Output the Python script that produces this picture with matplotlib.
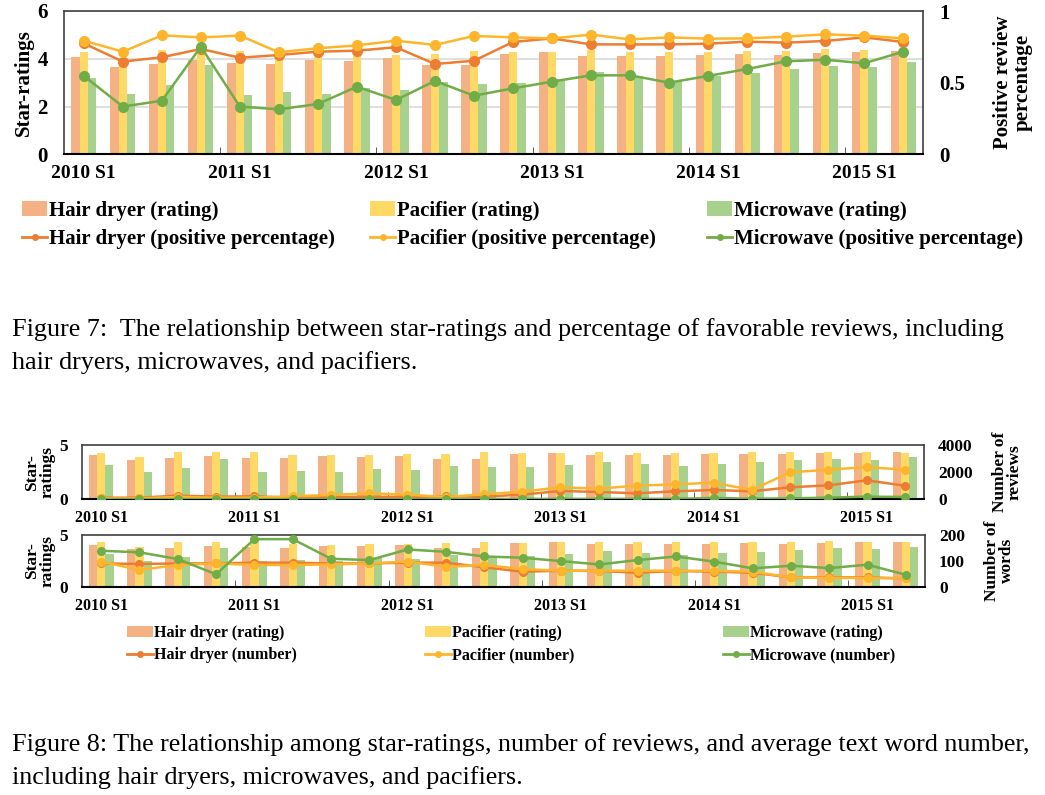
import matplotlib
matplotlib.use("Agg")
import matplotlib.pyplot as plt
import numpy as np
from matplotlib.lines import Line2D
from matplotlib.patches import Patch

plt.rcParams['font.family'] = ['Liberation Serif', 'DejaVu Serif']

periods = []
for yr in range(2010, 2016):
    for s in range(1, 5):
        periods.append(f"{yr} S{s}")
periods = periods[:22]

hair_rating = [4.06, 3.66, 3.78, 3.95, 3.82, 3.77, 3.95, 3.89, 4.02, 3.74, 3.74,
               4.19, 4.30, 4.12, 4.12, 4.12, 4.16, 4.20, 4.17, 4.24, 4.30, 4.33]
pac_rating = [4.30, 3.85, 4.37, 4.35, 4.34, 4.09, 4.06, 4.12, 4.16, 4.20, 4.34,
              4.27, 4.30, 4.37, 4.28, 4.30, 4.28, 4.31, 4.34, 4.40, 4.37, 4.30]
mw_rating = [3.20, 2.51, 2.89, 3.74, 2.47, 2.62, 2.53, 2.76, 2.69, 3.03, 2.94,
             2.99, 3.14, 3.45, 3.28, 3.06, 3.28, 3.40, 3.59, 3.70, 3.64, 3.86]

hair_pos = [0.774, 0.647, 0.677, 0.735, 0.674, 0.693, 0.716, 0.723, 0.747, 0.630, 0.653,
            0.784, 0.809, 0.767, 0.767, 0.767, 0.772, 0.786, 0.779, 0.791, 0.816, 0.784]
pac_pos = [0.793, 0.716, 0.830, 0.816, 0.828, 0.712, 0.740, 0.760, 0.793, 0.763, 0.826,
           0.816, 0.809, 0.835, 0.802, 0.816, 0.807, 0.809, 0.821, 0.837, 0.828, 0.809]
mw_pos = [0.547, 0.333, 0.374, 0.751, 0.333, 0.314, 0.351, 0.472, 0.379, 0.512, 0.409,
          0.460, 0.507, 0.551, 0.551, 0.500, 0.547, 0.595, 0.649, 0.660, 0.635, 0.716]

hair_reviews = [120, 120, 270, 196, 220, 120, 150, 196, 170, 220, 196,
                343, 612, 539, 441, 588, 686, 588, 882, 1029, 1396, 1005]
pac_reviews = [70, 70, 170, 120, 120, 220, 320, 440, 343, 170, 367,
               563, 880, 784, 1005, 1100, 1225, 686, 1985, 2180, 2376, 2180]
mw_reviews = [10, 10, 10, 10, 10, 10, 15, 15, 15, 20, 20,
              25, 25, 25, 30, 30, 100, 40, 70, 120, 196, 170]

hair_words = [90, 88, 90, 90, 93, 93, 90, 90, 93, 93, 75,
              58, 62, 61, 54, 61, 58, 54, 36, 36, 36, 32]
pac_words = [97, 65, 84, 90, 84, 84, 86, 90, 97, 77, 84,
             68, 62, 62, 62, 62, 61, 58, 36, 34, 34, 32]
mw_words = [139, 133, 107, 48, 184, 184, 108, 103, 144, 135, 117,
            112, 99, 86, 103, 117, 97, 71, 81, 72, 85, 46]

bar_cols = ['#F4B183', '#FFD966', '#A9D18E']
line_cols = ['#ED7D31', '#FDB62B', '#70AD47']
spine_col = '#404040'

W, H = 1045, 795
fig = plt.figure(figsize=(W / 100, H / 100), dpi=100)


def box(l, t, r, b):
    return [l / W, 1 - b / H, (r - l) / W, (b - t) / H]


x = np.arange(len(periods))
bw = 0.215


def draw_panel(ax, lines, ymax, yticks, rmax, rticks, rticklabels, fs_tick, fs_x,
               msize, grid=False):
    ax.set_zorder(1)
    ax.patch.set_visible(False)
    for k, vals in enumerate([hair_rating, pac_rating, mw_rating]):
        ax.bar(x + (k - 1) * bw, vals, width=bw, color=bar_cols[k], zorder=2)
    ax.set_xlim(-0.5, len(periods) - 0.5)
    ax.set_ylim(0, ymax)
    ax.set_yticks(yticks)
    ax.set_yticklabels([str(v) for v in yticks], fontsize=fs_tick, fontweight='bold')
    ax.tick_params(axis='y', length=0, pad=12)
    ax.set_xticks(x[::4])
    ax.set_xticklabels(periods[::4], fontsize=fs_x, fontweight='bold')
    ax.set_xticks(np.arange(3.5, len(periods) - 1, 4), minor=True)
    ax.tick_params(axis='x', which='major', length=0, pad=8)
    ax.tick_params(axis='x', which='minor', length=5, direction='in', color=spine_col)
    if grid:
        ax.yaxis.grid(True, color='#D9D9D9', linewidth=1.2, zorder=0)
        ax.set_axisbelow(True)
    for s in ax.spines.values():
        s.set_color(spine_col)
        s.set_linewidth(1.2)
    ax.spines['bottom'].set_color('black')
    ax.spines['bottom'].set_linewidth(1.5)

    ax2 = ax.twinx()
    ax2.set_zorder(2)
    for k, vals in enumerate(lines):
        ax2.plot(x, vals, color=line_cols[k], linewidth=1.8, marker='o',
                 markersize=msize, zorder=3)
    ax2.set_ylim(0, rmax)
    ax2.set_yticks(rticks)
    ax2.set_yticklabels(rticklabels, fontsize=fs_tick, fontweight='bold')
    ax2.tick_params(axis='y', length=0, pad=12)
    for s in ax2.spines.values():
        s.set_visible(False)
    return ax2


# ---- Figure 7 ----
ax7 = fig.add_axes(box(64.3, 11, 922.7, 154.3))
ax7r = draw_panel(ax7, [hair_pos, pac_pos, mw_pos], 6, [0, 2, 4, 6],
                  1, [0, 0.5, 1], ['0', '0.5', '1'], 15, 14, 7, grid=True)
ax7.set_ylabel('Star-ratings', fontsize=15, fontweight='bold', labelpad=2)
ax7r.set_ylabel('Positive review\npercentage', fontsize=15, fontweight='bold',
                labelpad=20, linespacing=0.95)


def column_legend(labels, k, xpix, ypix, fs, hl):
    handles = [Patch(facecolor=bar_cols[k], edgecolor='none'),
               Line2D([], [], color=line_cols[k], marker='o', markersize=4, linewidth=2)]
    lg = fig.legend(handles, labels, loc='upper left',
                    bbox_to_anchor=(xpix / W, 1 - ypix / H), frameon=False,
                    prop={'weight': 'bold', 'size': fs}, handlelength=hl,
                    handletextpad=0.08, labelspacing=0.4, borderaxespad=0,
                    borderpad=0)
    return lg


column_legend(['Hair dryer (rating)', 'Hair dryer (positive percentage)'], 0, 22, 201, 15, 1.2)
column_legend(['Pacifier (rating)', 'Pacifier (positive percentage)'], 1, 370, 201, 15, 1.2)
column_legend(['Microwave (rating)', 'Microwave (positive percentage)'], 2, 707, 201, 15, 1.2)

cap_fs = 18.8
fig.text(12 / W, 1 - 330 / H,
         'Figure 7:  The relationship between star-ratings and percentage of favorable reviews, including',
         fontsize=cap_fs, va='center', ha='left')
fig.text(12 / W, 1 - 363 / H, 'hair dryers, microwaves, and pacifiers.',
         fontsize=cap_fs, va='center', ha='left')

# ---- Figure 8 ----
ax8a = fig.add_axes(box(82, 445, 924, 499.3))
ax8ar = draw_panel(ax8a, [hair_reviews, pac_reviews, mw_reviews], 5, [0, 5],
                   4000, [0, 2000, 4000], ['0', '2000', '4000'], 12.5, 11.5, 5.5)
ax8a.set_ylabel('Star-\nratings', fontsize=12.5, fontweight='bold', labelpad=3,
                linespacing=0.9)
ax8ar.set_ylabel('Number of\nreviews', fontsize=12.5, fontweight='bold', labelpad=14,
                 linespacing=0.9)

ax8b = fig.add_axes(box(82, 535, 925, 586.7))
ax8br = draw_panel(ax8b, [hair_words, pac_words, mw_words], 5, [0, 5],
                   200, [0, 100, 200], ['0', '100', '200'], 12.5, 11.5, 5.5)
ax8b.set_ylabel('Star-\nratings', fontsize=12.5, fontweight='bold', labelpad=3,
                linespacing=0.9)
ax8br.set_ylabel('Number of\nwords', fontsize=12.5, fontweight='bold', labelpad=14,
                 linespacing=0.9)
for a in (ax8a, ax8b, ax8ar, ax8br):
    a.tick_params(axis='y', pad=10)

column_legend(['Hair dryer (rating)', 'Hair dryer (number)'], 0, 127, 625, 11.5, 1.6)
column_legend(['Pacifier (rating)', 'Pacifier (number)'], 1, 425, 625, 11.5, 1.6)
column_legend(['Microwave (rating)', 'Microwave (number)'], 2, 723, 625, 11.5, 1.6)

fig.text(12 / W, 1 - 745 / H,
         'Figure 8: The relationship among star-ratings, number of reviews, and average text word number,',
         fontsize=cap_fs, va='center', ha='left')
fig.text(12 / W, 1 - 778 / H, 'including hair dryers, microwaves, and pacifiers.',
         fontsize=cap_fs, va='center', ha='left')

fig.savefig('out.png', dpi=100)
